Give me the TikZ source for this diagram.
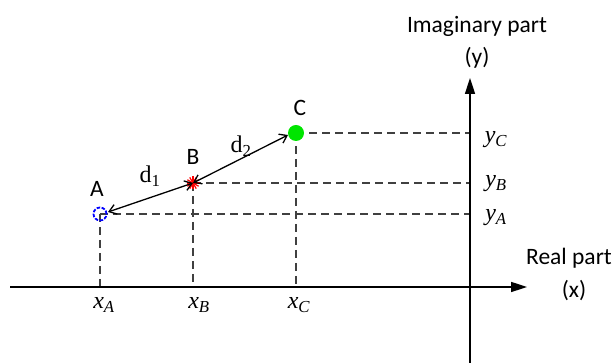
\documentclass[tikz,border=0pt]{standalone}
\usepackage{fontspec}
\setmainfont{Carlito}
\newfontfamily\mathserif{Liberation Serif}
\usetikzlibrary{arrows.meta,calc}
\tikzset{
  axis/.style={line width=1.6pt,-{Triangle[length=16pt,width=10pt]}},
  guide/.style={draw=black!75,line width=1.3pt,dash pattern=on 8pt off 5pt},
  dist/.style={line width=1.3pt,{Straight Barb[length=7pt,width=10pt]}-{Straight Barb[length=7pt,width=10pt]}},
  lbl/.style={font=\fontsize{23.5}{26}\selectfont,inner sep=0pt},
  coordlbl/.style={font=\fontsize{24}{26}\selectfont\mathserif\itshape,inner sep=0pt}
}
\begin{document}
\begin{tikzpicture}[x=1pt,y=1pt]
\useasboundingbox (0,0) rectangle (613,363);
% points
\coordinate (A) at (100,149);
\coordinate (B) at (193,180);
\coordinate (C) at (296,230);
\coordinate (O) at (470,76);
\coordinate (xl) at (10,76);
\coordinate (xr) at (527,76);
\coordinate (yb) at (470,0);
\coordinate (yt) at (470,285);
% guides
\draw[guide] (A) -- (A -| O);
\draw[guide] (B) -- (B -| O);
\draw[guide] (C) -- (C -| O);
\draw[guide] (A) -- (A |- O);
\draw[guide] (B) -- (B |- O);
\draw[guide] (C) -- (C |- O);
% axes
\draw[axis] (xl) -- (xr);
\draw[axis] (yb) -- (yt);
% markers
\draw[blue,line width=1.8pt,dash pattern=on 3.5pt off 1.5pt] (A) circle (6.5pt);
\foreach \a in {0,30,...,150}{\draw[red,line width=1.2pt] ($(B)+(\a:6.5pt)$) -- ($(B)+(\a+180:6.5pt)$);}
\fill[green!90!black] (C) circle (8pt);
% distances
\draw[dist] ($(A)+(8,2)$) -- (B);
\draw[dist] (B) -- ($(C)+(-8,-2)$);
% labels
\node[lbl] (lA) at (97,174) {A};
\node[lbl] (lB) at (193,206) {B};
\node[lbl] (lC) at (300,255) {C};
\node[font=\fontsize{24}{26}\selectfont\mathserif,inner sep=0pt] (d1) at (150,187) {d\textsubscript{1}};
\node[font=\fontsize{24}{26}\selectfont\mathserif,inner sep=0pt] (d2) at (241,217) {d\textsubscript{2}};
\node[coordlbl] (xA) at (104,58) {x\textsubscript{A}};
\node[coordlbl] (xB) at (199,58) {x\textsubscript{B}};
\node[coordlbl] (xC) at (299,58) {x\textsubscript{C}};
\node[coordlbl] (yC) at (496,223) {y\textsubscript{C}};
\node[coordlbl] (yB) at (496,179) {y\textsubscript{B}};
\node[coordlbl] (yA) at (496,145) {y\textsubscript{A}};
\node[lbl] (im) at (477,337) {Imaginary part};
\node[lbl] (imy) at (477,305) {(y)};
\node[lbl] (re) at (569,105) {Real part};
\node[lbl] (rex) at (574,72) {(x)};
\end{tikzpicture}
\end{document}
